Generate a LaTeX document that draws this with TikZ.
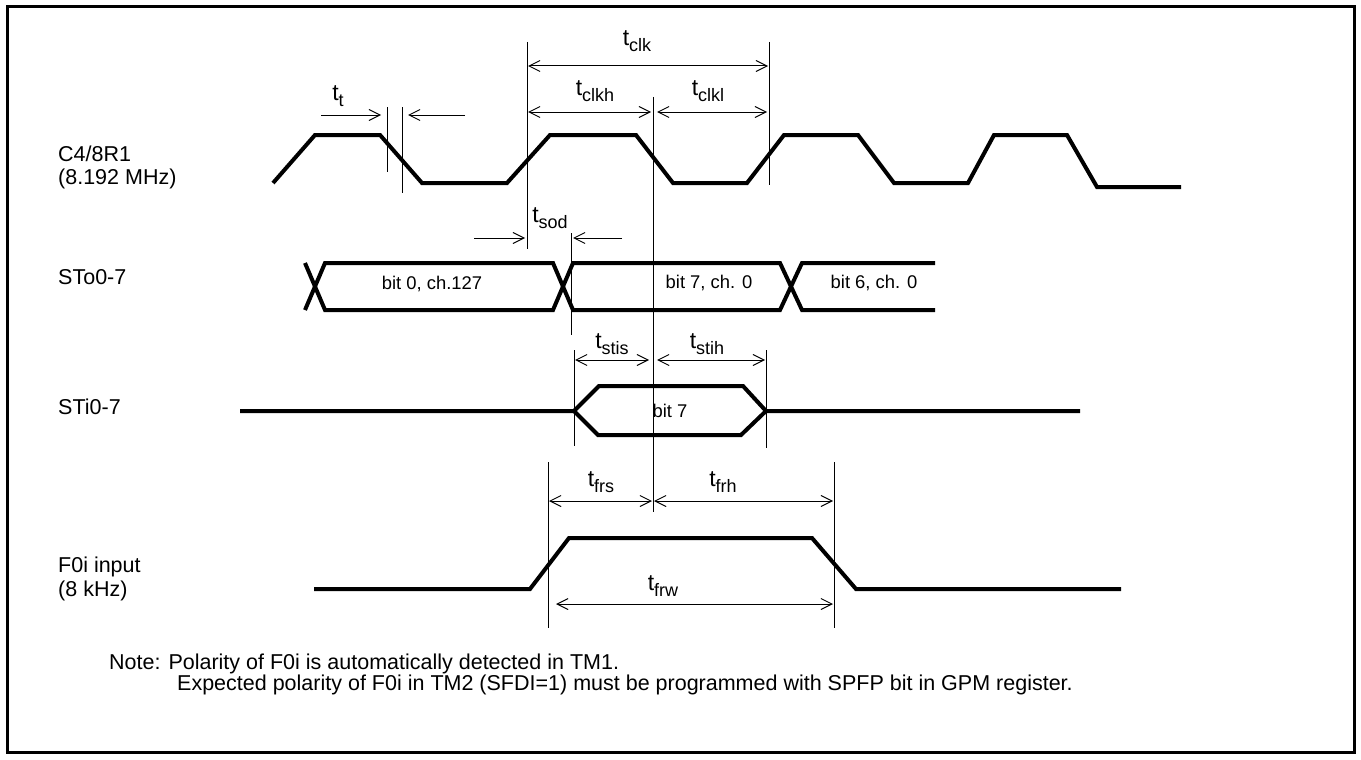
\documentclass[tikz,border=0pt]{standalone}
\usepackage{fontspec}
\setmainfont{Liberation Sans}
\usetikzlibrary{arrows.meta}
\newcommand{\tsub}[1]{{\fontsize{23}{23}\selectfont t}\raisebox{-6pt}{\fontsize{18}{18}\selectfont #1}}
\tikzset{
  wave/.style={line width=4pt, line join=miter, line cap=butt},
  dimline/.style={line width=1pt},
  tip/.tip={Straight Barb[length=11pt,width=11pt,line width=1pt]},
  dbl/.style={line width=1pt, tip-tip},
  sgl/.style={line width=1pt, -tip},
  sig/.style={inner sep=0pt, anchor=west, font=\fontsize{21.5}{21.5}\selectfont},
  txt/.style={inner sep=0pt, font=\fontsize{18.4}{18.4}\selectfont},
  tlab/.style={inner sep=0pt},
  note/.style={inner sep=0pt, anchor=west, font=\fontsize{21.5}{21.5}\selectfont}
}
\begin{document}
\begin{tikzpicture}[x=1pt,y=-1pt]
\useasboundingbox (0,0) rectangle (1361,760);
\fill[white] (0,0) rectangle (1361,760);
\draw[line width=3pt] (7,7) rectangle (1354,752);

% signal names
\node[sig] (c48) at (58,154) {C4/8R1};
\node[sig] (c48f) at (58,179) {(8.192 MHz)};
\node[sig] (sto) at (58,277) {STo0-7};
\node[sig] (sti) at (58,407) {STi0-7};
\node[sig] (f0i) at (58,567) {F0i input};
\node[sig] (f0if) at (58,591) {(8 kHz)};

% clock
\draw[wave] (273,183) -- (315,135) -- (380,135) -- (422,183) -- (507,183) -- (550,135) -- (636,135) -- (673,183) -- (747,183) -- (784,135) -- (858,135) -- (894,183) -- (968,183) -- (994,135) -- (1067,135) -- (1097,187) -- (1181,187);

% STo
\draw[wave] (305,263) -- (325,310) -- (553,310) -- (573,263) -- (780,263) -- (802,310) -- (935,310);
\draw[wave] (305,310) -- (325,263) -- (553,263) -- (573,310) -- (780,310) -- (802,263) -- (935,263);
\node[txt] (b0) at (432,284) {bit 0, ch.127};
\node[txt] (b7) at (709,283) {bit 7, ch. 0};
\node[txt] (b6) at (874,283) {bit 6, ch. 0};

% STi
\draw[wave] (240,411) -- (574,411) -- (599,386) -- (743,386) -- (766,411) -- (1080,411);
\draw[wave] (574,411) -- (598,435) -- (741,435) -- (766,411);
\node[txt] (bi7) at (670,411) {bit 7};

% F0i
\draw[wave] (314,589) -- (530,589) -- (569,538) -- (812,538) -- (856,589) -- (1121,589);

% reference lines
\coordinate (tt1a) at (387,107); \coordinate (tt1b) at (387,172);
\coordinate (tt2a) at (402,107); \coordinate (tt2b) at (402,193);
\draw[dimline] (tt1a) -- (tt1b);
\draw[dimline] (tt2a) -- (tt2b);
\coordinate (ck1a) at (527,42); \coordinate (ck1b) at (527,249);
\coordinate (ck2a) at (769,42); \coordinate (ck2b) at (769,185);
\coordinate (mida) at (653,97); \coordinate (midb) at (653,512);
\draw[dimline] (ck1a) -- (ck1b);
\draw[dimline] (ck2a) -- (ck2b);
\draw[dimline] (mida) -- (midb);
\coordinate (sda) at (571,233); \coordinate (sdb) at (571,335);
\draw[dimline] (sda) -- (sdb);
\coordinate (sia) at (574,350); \coordinate (sib) at (574,446);
\coordinate (sha) at (766,350); \coordinate (shb) at (766,448);
\draw[dimline] (sia) -- (sib);
\draw[dimline] (sha) -- (shb);
\coordinate (fra) at (548,462); \coordinate (frb) at (548,628);
\coordinate (fha) at (834,462); \coordinate (fhb) at (834,628);
\draw[dimline] (fra) -- (frb);
\draw[dimline] (fha) -- (fhb);

% arrows
\coordinate (a1) at (321,115); \coordinate (a2) at (381,115);
\coordinate (a3) at (465,115); \coordinate (a4) at (408,115);
\draw[sgl] (a1) -- (a2);
\draw[sgl] (a3) -- (a4);
\coordinate (k1) at (528,66); \coordinate (k2) at (768,66);
\draw[dbl] (k1) -- (k2);
\coordinate (h1) at (528,112); \coordinate (h2) at (651,112);
\coordinate (l1) at (657,112); \coordinate (l2) at (767,112);
\draw[dbl] (h1) -- (h2);
\draw[dbl] (l1) -- (l2);
\coordinate (s1) at (474,238); \coordinate (s2) at (525,238);
\coordinate (s3) at (622,238); \coordinate (s4) at (573,238);
\draw[sgl] (s1) -- (s2);
\draw[sgl] (s3) -- (s4);
\coordinate (ti1) at (575,360); \coordinate (ti2) at (649,360);
\coordinate (th1) at (657,360); \coordinate (th2) at (765,360);
\draw[dbl] (ti1) -- (ti2);
\draw[dbl] (th1) -- (th2);
\coordinate (fs1) at (549,501); \coordinate (fs2) at (652,501);
\coordinate (fh1) at (654,501); \coordinate (fh2) at (833,501);
\draw[dbl] (fs1) -- (fs2);
\draw[dbl] (fh1) -- (fh2);
\coordinate (fw1) at (556,604); \coordinate (fw2) at (833,604);
\draw[dbl] (fw1) -- (fw2);

% timing labels
\node[tlab] (Ltt) at (338,96) {\tsub{t}};
\node[tlab] (Lclk) at (637,41) {\tsub{clk}};
\node[tlab] (Lclkh) at (595,91) {\tsub{clkh}};
\node[tlab] (Lclkl) at (708,91) {\tsub{clkl}};
\node[tlab] (Lsod) at (550,218) {\tsub{sod}};
\node[tlab] (Lstis) at (612,344) {\tsub{stis}};
\node[tlab] (Lstih) at (707,344) {\tsub{stih}};
\node[tlab] (Lfrs) at (601,482) {\tsub{frs}};
\node[tlab] (Lfrh) at (723,482) {\tsub{frh}};
\node[tlab] (Lfrw) at (663,586) {\tsub{frw}};

% note
\node[note] (n1) at (109,664) {Note: Polarity of F0i is automatically detected in TM1.};
\node[note] (n2) at (177,685) {Expected polarity of F0i in TM2 (SFDI=1) must be programmed with SPFP bit in GPM register.};
\end{tikzpicture}
\end{document}
